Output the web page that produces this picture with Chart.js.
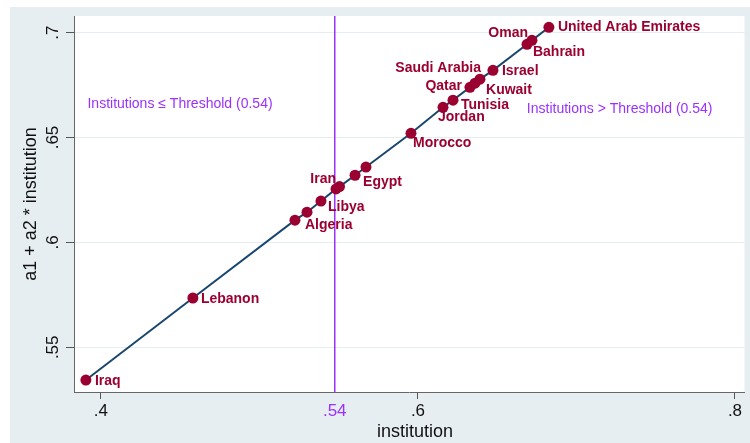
<!DOCTYPE html>
<html>
<head>
<meta charset="utf-8">
<script src="https://cdn.jsdelivr.net/npm/chart.js@4/dist/chart.umd.min.js"></script>
<style>
  html, body { margin: 0; padding: 0; background: #fff; }
  #wrap { width: 750px; height: 443px; }
</style>
</head>
<body>
<div id="wrap"><canvas id="chart" width="750" height="443"></canvas></div>
<script>
// --- Data ---
const countries = ["Iraq", "Lebanon", "Algeria", "", "Libya", "Iran", "", "Egypt", "",
  "Morocco", "Jordan", "Tunisia", "Qatar", "Kuwait", "Saudi Arabia", "Israel",
  "Oman", "Bahrain", "United Arab Emirates"];
const institution = [0.3905, 0.4580, 0.5224, 0.5300, 0.5388, 0.5483, 0.5505, 0.5603, 0.5672,
  0.5956, 0.6158, 0.6221, 0.6328, 0.6360, 0.6391, 0.6473, 0.6688, 0.6719, 0.6826];
const fitted = [0.5344, 0.5735, 0.6106, 0.6144, 0.6197, 0.6255, 0.6266, 0.6320, 0.6359,
  0.6520, 0.6644, 0.6678, 0.6739, 0.6759, 0.6778, 0.6820, 0.6944, 0.6963, 0.7025];
const threshold = 0.5475;
const xTicks = [0.4, threshold, 0.6, 0.8];
const xTickLabels = [".4", ".54", ".6", ".8"];
const yTicks = [0.55, 0.6, 0.65, 0.7];
const yTickLabels = [".55", ".6", ".65", ".7"];
const leftNote = "Institutions \u2264 Threshold (0.54)";
const rightNote = "Institutions > Threshold (0.54)";

// --- Styles ---
const FONT = "'Liberation Sans', Arial, sans-serif";
const PURPLE = "#9b30ff";
const MAROON = "#9a0030";
const NAVY = "#1a476f";
const BG = "#e6eef1";

// label offsets from the marker: [dx, dy, align]
const labelPos = {
  "Iraq": [9, 1, "left"], "Lebanon": [8, 1, "left"], "Algeria": [10, 5, "left"],
  "Libya": [7, 6, "left"], "Iran": [0, -10, "right"], "Egypt": [8, 7, "left"],
  "Morocco": [2, 10, "left"], "Jordan": [-5, 10, "left"], "Tunisia": [8, 5, "left"],
  "Qatar": [-8, -1, "right"], "Kuwait": [11, 7, "left"], "Saudi Arabia": [1, -11, "right"],
  "Israel": [9, 1, "left"], "Oman": [1, -11, "right"], "Bahrain": [1, 12, "left"],
  "United Arab Emirates": [9, 0, "left"]
};

const frame = {
  id: "frame",
  beforeDraw(chart) {
    const { ctx, chartArea: a } = chart;
    ctx.save();
    ctx.fillStyle = "#fff";
    ctx.fillRect(0, 0, chart.width, chart.height);
    ctx.fillStyle = BG;
    ctx.fillRect(10, 7, chart.width - 10, chart.height - 7);
    ctx.fillStyle = "#fff";
    ctx.fillRect(a.left, a.top, a.right - a.left, a.bottom - a.top);
    ctx.restore();
  },
  beforeDatasetsDraw(chart) {
    const { ctx, chartArea: a, scales } = chart;
    const x = scales.x.getPixelForValue(threshold);
    ctx.save();
    ctx.strokeStyle = PURPLE;
    ctx.lineWidth = 1.5;
    ctx.beginPath();
    ctx.moveTo(x, a.top);
    ctx.lineTo(x, a.bottom);
    ctx.stroke();
    // notes
    ctx.fillStyle = PURPLE;
    ctx.font = "14px " + FONT;
    ctx.textBaseline = "middle";
    ctx.textAlign = "left";
    ctx.fillText(leftNote, scales.x.getPixelForValue(0.3915), scales.y.getPixelForValue(0.6659));
    ctx.fillText(rightNote, scales.x.getPixelForValue(0.6687), scales.y.getPixelForValue(0.6634));
    ctx.restore();
  },
  afterDatasetsDraw(chart) {
    const { ctx } = chart;
    const meta = chart.getDatasetMeta(0);
    ctx.save();
    ctx.fillStyle = MAROON;
    ctx.font = "bold 14px " + FONT;
    ctx.textBaseline = "middle";
    meta.data.forEach((pt, i) => {
      const name = countries[i];
      if (!name) return;
      const p = labelPos[name] || [8, 1, "left"];
      ctx.textAlign = p[2];
      ctx.fillText(name, pt.x + p[0], pt.y + p[1]);
    });
    ctx.restore();
  },
  afterDraw(chart) {
    const { ctx, chartArea: a, scales } = chart;
    ctx.save();
    ctx.fillStyle = "#111";
    ctx.textAlign = "center";
    ctx.textBaseline = "middle";
    // y tick labels, rotated
    ctx.font = "17px " + FONT;
    yTicks.forEach((v, i) => {
      ctx.save();
      ctx.translate(53, scales.y.getPixelForValue(v));
      ctx.rotate(-Math.PI / 2);
      ctx.fillText(yTickLabels[i], 0, 0);
      ctx.restore();
    });
    // axis titles
    ctx.font = "18px " + FONT;
    ctx.save();
    ctx.translate(31, (a.top + a.bottom) / 2);
    ctx.rotate(-Math.PI / 2);
    ctx.fillText("a1 + a2 * institution", 0, 0);
    ctx.restore();
    ctx.fillText("institution", 415, 432);
    ctx.restore();
  }
};

new Chart(document.getElementById("chart"), {
  type: "line",
  data: {
    datasets: [{
      data: institution.map((x, i) => ({ x, y: fitted[i] })),
      borderColor: NAVY,
      borderWidth: 2,
      pointRadius: 5.5,
      pointBackgroundColor: MAROON,
      pointBorderColor: MAROON,
      pointBorderWidth: 0,
      fill: false,
      tension: 0
    }]
  },
  options: {
    responsive: false,
    animation: false,
    devicePixelRatio: 1,
    layout: { padding: { top: 16, right: 5, left: 0, bottom: 0 } },
    plugins: { legend: { display: false }, tooltip: { enabled: false } },
    scales: {
      x: {
        type: "linear",
        min: 0.383,
        max: 0.806,
        afterBuildTicks: s => { s.ticks = xTicks.map(v => ({ value: v })); },
        afterFit: s => { s.height = 51; },
        ticks: {
          autoSkip: false,
          maxRotation: 0,
          padding: 2,
          font: { family: FONT, size: 17 },
          color: c => (c.tick && c.tick.value === threshold ? PURPLE : "#111"),
          callback: (v, i) => xTickLabels[i]
        },
        grid: {
          drawOnChartArea: false,
          drawTicks: true,
          tickLength: 7,
          tickColor: c => (c.tick && c.tick.value === threshold ? "rgba(0,0,0,0)" : "#555")
        },
        border: { display: true, color: "#666", width: 1 }
      },
      y: {
        type: "linear",
        min: 0.5287,
        max: 0.7079,
        afterBuildTicks: s => { s.ticks = yTicks.map(v => ({ value: v })); },
        afterFit: s => { s.width = 74; },
        ticks: { display: false },
        grid: {
          color: "#e4edf0",
          lineWidth: 1,
          drawTicks: true,
          tickLength: 8,
          tickColor: "#555"
        },
        border: { display: true, color: "#666", width: 1 }
      }
    }
  },
  plugins: [frame]
});
</script>
</body>
</html>
